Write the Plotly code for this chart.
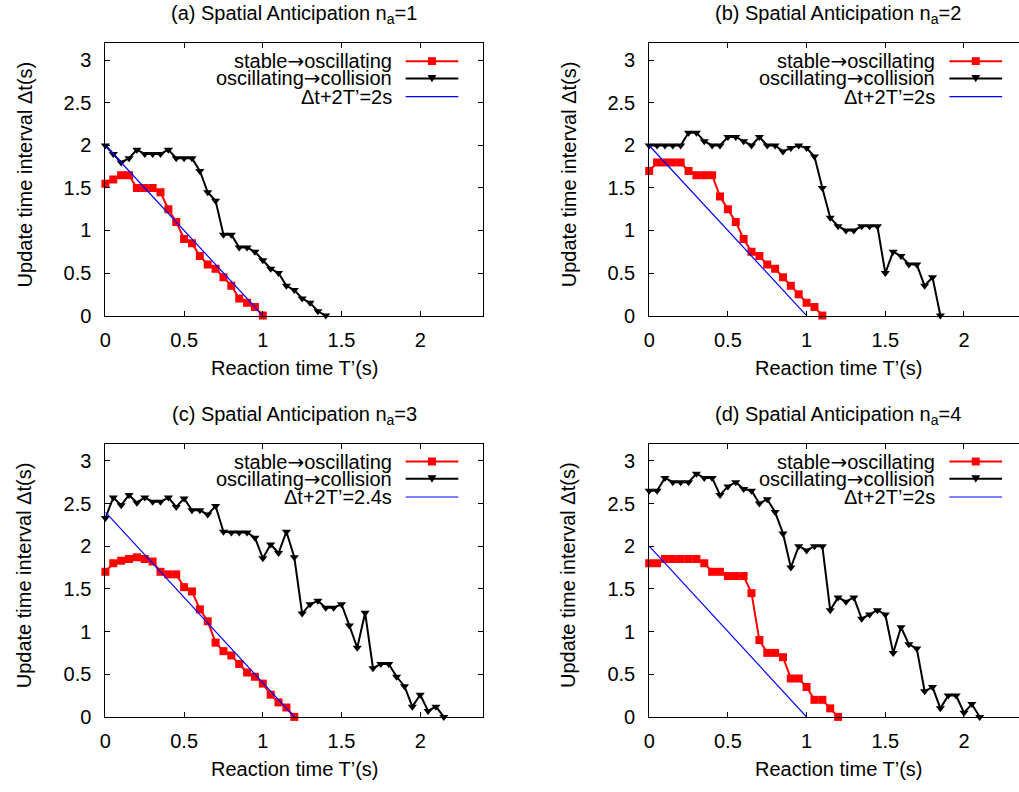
import plotly.graph_objects as go

# ---------------- data ----------------
# panel (a) n_a = 1
Ta_red = [0, 0.05, 0.1, 0.15, 0.2, 0.25, 0.3, 0.35, 0.4, 0.45, 0.5, 0.55, 0.6, 0.65, 0.7, 0.75, 0.8, 0.85, 0.9, 0.95, 1.0]
Da_red = [1.55, 1.6, 1.65, 1.65, 1.5, 1.5, 1.5, 1.45, 1.25, 1.1, 0.9, 0.85, 0.7, 0.6, 0.55, 0.45, 0.35, 0.2, 0.15, 0.1, 0.0]
Ta_blk = [0, 0.05, 0.1, 0.15, 0.2, 0.25, 0.3, 0.35, 0.4, 0.45, 0.5, 0.55, 0.6, 0.65, 0.7, 0.75, 0.8, 0.85, 0.9, 0.95,
          1.0, 1.05, 1.1, 1.15, 1.2, 1.25, 1.3, 1.35, 1.4]
Da_blk = [2.0, 1.9, 1.8, 1.85, 1.95, 1.9, 1.9, 1.9, 1.95, 1.85, 1.85, 1.85, 1.7, 1.45, 1.35, 0.95, 0.95, 0.8, 0.8, 0.75,
          0.65, 0.55, 0.5, 0.35, 0.3, 0.2, 0.15, 0.05, 0.0]
Ta_lin = [0, 1.0]
Da_lin = [2.0, 0.0]

# panel (b) n_a = 2
Tb_red = [0, 0.05, 0.1, 0.15, 0.2, 0.25, 0.3, 0.35, 0.4, 0.45, 0.5, 0.55, 0.6, 0.65, 0.7, 0.75, 0.8, 0.85, 0.9, 0.95,
          1.0, 1.05, 1.1]
Db_red = [1.7, 1.8, 1.8, 1.8, 1.8, 1.7, 1.65, 1.65, 1.65, 1.4, 1.25, 1.1, 0.9, 0.75, 0.7, 0.6, 0.55, 0.45, 0.35, 0.25,
          0.15, 0.1, 0.0]
Tb_blk = [0, 0.05, 0.1, 0.15, 0.2, 0.25, 0.3, 0.35, 0.4, 0.45, 0.5, 0.55, 0.6, 0.65, 0.7, 0.75, 0.8, 0.85, 0.9, 0.95,
          1.0, 1.05, 1.1, 1.15, 1.2, 1.25, 1.3, 1.35, 1.4, 1.45, 1.5, 1.55, 1.6, 1.65, 1.7, 1.75, 1.8, 1.85]
Db_blk = [2.0, 2.0, 2.0, 2.0, 2.0, 2.15, 2.15, 2.05, 2.0, 2.0, 2.1, 2.1, 2.05, 2.0, 2.1, 2.0, 2.0, 1.93, 1.97, 2.0,
          1.97, 1.87, 1.5, 1.15, 1.05, 1.0, 1.0, 1.05, 1.05, 1.05, 0.5, 0.75, 0.7, 0.6, 0.6, 0.35, 0.45, 0.0]
Tb_lin = [0, 1.0]
Db_lin = [2.0, 0.0]

# panel (c) n_a = 3
Tc_red = [0, 0.05, 0.1, 0.15, 0.2, 0.25, 0.3, 0.35, 0.4, 0.45, 0.5, 0.55, 0.6, 0.65, 0.7, 0.75, 0.8, 0.85, 0.9, 0.95,
          1.0, 1.05, 1.1, 1.15, 1.2]
Dc_red = [1.7, 1.8, 1.83, 1.85, 1.87, 1.85, 1.82, 1.7, 1.67, 1.67, 1.52, 1.47, 1.26, 1.12, 0.87, 0.77, 0.72, 0.62,
          0.52, 0.47, 0.39, 0.26, 0.17, 0.11, 0.0]
Tc_blk = [0, 0.05, 0.1, 0.15, 0.2, 0.25, 0.3, 0.35, 0.4, 0.45, 0.5, 0.55, 0.6, 0.65, 0.7, 0.75, 0.8, 0.85, 0.9, 0.95,
          1.0, 1.05, 1.1, 1.15, 1.2, 1.25, 1.3, 1.35, 1.4, 1.45, 1.5, 1.55, 1.6, 1.65, 1.7, 1.75, 1.8, 1.85, 1.9, 1.95,
          2.0, 2.05, 2.1, 2.15]
Dc_blk = [2.33, 2.57, 2.48, 2.6, 2.51, 2.57, 2.52, 2.52, 2.57, 2.46, 2.56, 2.42, 2.42, 2.37, 2.47, 2.17, 2.16, 2.16,
          2.16, 2.1, 1.86, 2.02, 1.92, 2.17, 1.87, 1.21, 1.32, 1.36, 1.28, 1.28, 1.32, 1.07, 0.81, 1.22, 0.57, 0.62,
          0.62, 0.47, 0.36, 0.12, 0.26, 0.07, 0.12, 0.0]
Tc_lin = [0, 1.2]
Dc_lin = [2.4, 0.0]

# panel (d) n_a = 4
Td_red = [0, 0.05, 0.1, 0.15, 0.2, 0.25, 0.3, 0.35, 0.4, 0.45, 0.5, 0.55, 0.6, 0.65, 0.7, 0.75, 0.8, 0.85, 0.9, 0.95,
          1.0, 1.05, 1.1, 1.15, 1.2]
Dd_red = [1.8, 1.8, 1.85, 1.85, 1.85, 1.85, 1.85, 1.8, 1.7, 1.7, 1.65, 1.65, 1.65, 1.45, 0.9, 0.75, 0.75, 0.7, 0.45,
          0.45, 0.35, 0.2, 0.2, 0.1, 0.0]
Td_blk = [0, 0.05, 0.1, 0.15, 0.2, 0.25, 0.3, 0.35, 0.4, 0.45, 0.5, 0.55, 0.6, 0.65, 0.7, 0.75, 0.8, 0.85, 0.9, 0.95,
          1.0, 1.05, 1.1, 1.15, 1.2, 1.25, 1.3, 1.35, 1.4, 1.45, 1.5, 1.55, 1.6, 1.65, 1.7, 1.75, 1.8, 1.85, 1.9, 1.95,
          2.0, 2.05, 2.1]
Dd_blk = [2.65, 2.65, 2.8, 2.75, 2.75, 2.75, 2.85, 2.8, 2.8, 2.6, 2.7, 2.75, 2.67, 2.65, 2.5, 2.55, 2.4, 2.15, 1.75,
          2.0, 1.95, 2.0, 2.0, 1.25, 1.4, 1.35, 1.4, 1.15, 1.2, 1.25, 1.2, 0.75, 1.05, 0.85, 0.8, 0.3, 0.35, 0.1, 0.25,
          0.25, 0.05, 0.15, 0.0]
Td_lin = [0, 1.0]
Dd_lin = [2.0, 0.0]

titles = ["(a) Spatial Anticipation n<sub>a</sub>=1", "(b) Spatial Anticipation n<sub>a</sub>=2",
          "(c) Spatial Anticipation n<sub>a</sub>=3", "(d) Spatial Anticipation n<sub>a</sub>=4"]
ARROW = "<span style='font-family:DejaVu Sans'>→</span>"
series_labels = ["stable" + ARROW + "oscillating", "oscillating" + ARROW + "collision"]
line_labels = ["Δt+2T’=2s", "Δt+2T’=2s", "Δt+2T’=2.4s", "Δt+2T’=2s"]
x_ticks = [0, 0.5, 1, 1.5, 2]
x_ticktext = ["0", "0.5", "1", "1.5", "2"]
y_ticks = [0, 0.5, 1, 1.5, 2, 2.5, 3]
y_ticktext = ["0", "0.5", "1", "1.5", "2", "2.5", "3"]
x_title = "Reaction time T’(s)"
y_title = "Update time interval Δt(s)"

data = [
    (Ta_red, Da_red, Ta_blk, Da_blk, Ta_lin, Da_lin),
    (Tb_red, Db_red, Tb_blk, Db_blk, Tb_lin, Db_lin),
    (Tc_red, Dc_red, Tc_blk, Dc_blk, Tc_lin, Dc_lin),
    (Td_red, Dd_red, Td_blk, Dd_blk, Td_lin, Dd_lin),
]

# ---------------- layout geometry (pixels) ----------------
W, H = 1019, 792
FONT = "Liberation Sans, Arial, sans-serif"
FS = 20
PX_PER_X = 380 / 2.4
boxes = [(100, 44, 480, 320), (647, 44, 1019, 320), (100, 450, 480, 727), (647, 450, 1019, 727)]


def px(x):
    return x / W


def py(y):
    return 1 - y / H


fig = go.Figure()
layout = dict(
    width=W, height=H, margin=dict(l=0, r=0, t=0, b=0),
    paper_bgcolor="white", plot_bgcolor="white", showlegend=False,
    font=dict(family=FONT, size=FS, color="black"),
)
annotations = []
shapes = []
TXT = dict(size=FS, family=FONT, color="black")

for i, (box, (tr, dr, tb, db, tl, dl)) in enumerate(zip(boxes, data)):
    n = i + 1
    xa = "x" if n == 1 else f"x{n}"
    ya = "y" if n == 1 else f"y{n}"
    x0, y0, x1, y1 = box
    xmax = (x1 - x0) / PX_PER_X
    right_visible = x1 < W
    layout["xaxis" if n == 1 else f"xaxis{n}"] = dict(
        domain=[px(x0), px(x1)], anchor=ya, range=[0, xmax],
        tickvals=x_ticks, ticktext=x_ticktext, ticks="inside", ticklen=5, tickwidth=1, tickcolor="black",
        showline=True, linecolor="black", linewidth=1, mirror="ticks", showgrid=False, zeroline=False,
        tickfont=TXT, ticklabelstandoff=6,
    )
    layout["yaxis" if n == 1 else f"yaxis{n}"] = dict(
        domain=[py(y1), py(y0)], anchor=xa, range=[0, 3.2],
        tickvals=y_ticks, ticktext=y_ticktext, ticks="inside", ticklen=5, tickwidth=1, tickcolor="black",
        showline=True, linecolor="black", linewidth=1, mirror="ticks" if right_visible else False,
        showgrid=False, zeroline=False,
        tickfont=TXT, ticklabelstandoff=9,
    )
    fig.add_trace(go.Scatter(x=tr, y=dr, xaxis=xa, yaxis=ya, mode="lines+markers",
                             line=dict(color="#ff0000", width=2),
                             marker=dict(symbol="square", size=8, color="#ff0000"), cliponaxis=False))
    fig.add_trace(go.Scatter(x=tb, y=db, xaxis=xa, yaxis=ya, mode="lines+markers",
                             line=dict(color="black", width=2),
                             marker=dict(symbol="triangle-down", size=8, color="black"), cliponaxis=False))
    fig.add_trace(go.Scatter(x=tl, y=dl, xaxis=xa, yaxis=ya, mode="lines",
                             line=dict(color="#0000ff", width=1.2)))

    cx = x0 + 190
    # title
    annotations.append(dict(text=titles[i], x=px(cx), y=py(y0 - 29), xref="paper", yref="paper",
                            xanchor="center", yanchor="middle", showarrow=False, font=TXT))
    # x title
    annotations.append(dict(text=x_title, x=px(cx), y=py(y1 + 53), xref="paper", yref="paper",
                            xanchor="center", yanchor="middle", showarrow=False, font=TXT))
    # y title
    annotations.append(dict(text=y_title, x=px(x0 - 81), y=py((y0 + y1) / 2 - 5),
                            xref="paper", yref="paper", xanchor="center", yanchor="middle",
                            textangle=-90, showarrow=False, font=TXT))
    # legend
    rows = [y0 + 18, y0 + 35.5, y0 + 54]
    labels = series_labels + [line_labels[i]]
    colors = ["#ff0000", "black", "#0000ff"]
    widths = [2, 2, 1.2]
    for r, (ry, lab, col, wd) in enumerate(zip(rows, labels, colors, widths)):
        annotations.append(dict(text=lab, x=px(x0 + 290), y=py(ry), xref="paper", yref="paper",
                                xanchor="right", yanchor="middle", showarrow=False, font=TXT))
        shapes.append(dict(type="line", xref="paper", yref="paper",
                           x0=px(x0 + 302), x1=px(x0 + 355), y0=py(ry), y1=py(ry),
                           line=dict(color=col, width=wd)))
        mx = x0 + 328.5
        if r == 0:
            shapes.append(dict(type="rect", xref="paper", yref="paper",
                               x0=px(mx - 4), x1=px(mx + 4), y0=py(ry - 4), y1=py(ry + 4),
                               fillcolor="#ff0000", line=dict(width=0)))
        elif r == 1:
            path = (f"M {px(mx - 4.5)},{py(ry - 3.5)} L {px(mx + 4.5)},{py(ry - 3.5)} "
                    f"L {px(mx)},{py(ry + 4)} Z")
            shapes.append(dict(type="path", xref="paper", yref="paper", path=path,
                               fillcolor="black", line=dict(width=0)))

layout["annotations"] = annotations
layout["shapes"] = shapes
fig.update_layout(**layout)
fig.write_html("out.html")
